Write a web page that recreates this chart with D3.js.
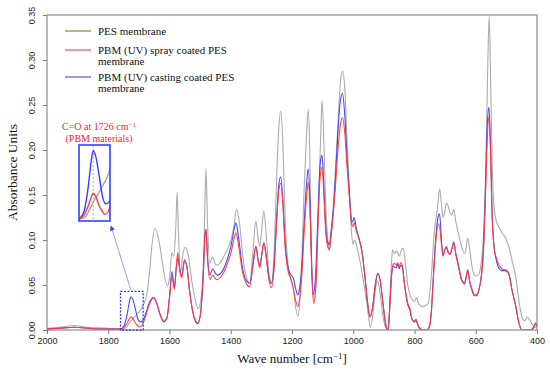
<!DOCTYPE html>
<html>
<head>
<meta charset="utf-8">
<script src="https://cdnjs.cloudflare.com/ajax/libs/d3/7.8.5/d3.min.js"></script>
<style>
  body { margin: 0; background: #fff; }
  svg { display: block; }
</style>
</head>
<body>
<svg id="chart" width="550" height="371"></svg>
<script>
/* Data: [wave number, absorbance] */

// PES membrane (grey)
var pesData = [
  [2000, 0.002], [1960, 0.003], [1910, 0.005], [1870, 0.003], [1800, 0.002], [1760, 0.001],
  [1745, 0.002], [1735, 0.006], [1726, 0.010], [1715, 0.014], [1705, 0.018], [1695, 0.022],
  [1685, 0.028], [1674, 0.040], [1665, 0.065], [1658, 0.092], [1648, 0.113], [1635, 0.100],
  [1620, 0.068], [1607, 0.049], [1600, 0.058], [1592, 0.086], [1586, 0.082], [1580, 0.110],
  [1575, 0.153], [1570, 0.100], [1564, 0.064], [1556, 0.085], [1548, 0.092], [1540, 0.085],
  [1525, 0.050], [1506, 0.024], [1495, 0.040], [1487, 0.100], [1481, 0.179], [1476, 0.120],
  [1468, 0.074], [1459, 0.081], [1450, 0.073], [1443, 0.072], [1432, 0.076], [1415, 0.087],
  [1400, 0.099], [1390, 0.115], [1381, 0.134], [1372, 0.120], [1360, 0.080], [1350, 0.060],
  [1338, 0.052], [1328, 0.085], [1318, 0.121], [1310, 0.100], [1305, 0.093], [1298, 0.115],
  [1292, 0.132], [1283, 0.100], [1275, 0.062], [1267, 0.052], [1258, 0.090], [1250, 0.170],
  [1243, 0.225], [1237, 0.243], [1230, 0.210], [1222, 0.120], [1212, 0.070], [1205, 0.058],
  [1195, 0.045], [1190, 0.030], [1181, 0.015], [1175, 0.030], [1168, 0.080], [1160, 0.160],
  [1152, 0.220], [1147, 0.245], [1142, 0.200], [1137, 0.090], [1129, 0.031], [1120, 0.060],
  [1112, 0.150], [1106, 0.220], [1102, 0.255], [1097, 0.220], [1090, 0.140], [1083, 0.100],
  [1078, 0.089], [1072, 0.110], [1066, 0.134], [1058, 0.180], [1050, 0.230], [1042, 0.275],
  [1035, 0.2875], [1028, 0.270], [1020, 0.210], [1012, 0.147], [1006, 0.110], [1001, 0.095],
  [996, 0.100], [990, 0.095], [980, 0.080], [972, 0.065], [960, 0.040], [950, 0.015],
  [945, 0.003], [935, 0.020], [928, 0.045], [920, 0.054], [912, 0.040], [903, 0.015],
  [893, 0.002], [886, 0.000], [880, 0.040], [875, 0.075], [872, 0.089], [865, 0.085],
  [858, 0.088], [850, 0.082], [843, 0.088], [837, 0.091], [830, 0.075], [822, 0.050],
  [815, 0.039], [805, 0.033], [800, 0.032], [794, 0.036], [788, 0.030], [780, 0.027],
  [772, 0.026], [765, 0.027], [755, 0.030], [745, 0.060], [735, 0.110], [725, 0.135],
  [718, 0.157], [712, 0.140], [707, 0.125], [702, 0.130], [696, 0.141], [690, 0.138],
  [684, 0.130], [678, 0.128], [672, 0.134], [665, 0.120], [655, 0.105], [648, 0.095],
  [637, 0.085], [632, 0.090], [626, 0.102], [620, 0.090], [612, 0.070], [605, 0.061],
  [598, 0.060], [590, 0.062], [582, 0.075], [574, 0.110], [566, 0.200], [561, 0.290],
  [556, 0.349], [551, 0.270], [546, 0.180], [540, 0.136], [532, 0.120], [523, 0.114],
  [512, 0.107], [502, 0.102], [490, 0.090], [480, 0.075], [469, 0.058], [458, 0.030],
  [448, 0.013], [440, 0.010], [432, 0.014], [425, 0.012], [415, 0.006], [405, 0.003],
  [400, 0.005]
];

// PBM (UV) spray coated PES membrane (red)
var sprayData = [
  [2000, 0.001], [1960, 0.002], [1910, 0.003], [1870, 0.002], [1800, 0.001], [1760, 0.001],
  [1748, 0.003], [1738, 0.008], [1730, 0.013], [1726, 0.0146], [1720, 0.013], [1712, 0.008],
  [1704, 0.005], [1698, 0.0035], [1690, 0.005], [1680, 0.013], [1665, 0.029], [1652, 0.036],
  [1642, 0.030], [1630, 0.017], [1618, 0.0098], [1608, 0.014], [1600, 0.035], [1592, 0.060],
  [1584, 0.045], [1578, 0.070], [1573, 0.086], [1566, 0.065], [1560, 0.058], [1551, 0.077],
  [1543, 0.070], [1535, 0.045], [1520, 0.015], [1508, 0.008], [1500, 0.015], [1490, 0.060],
  [1484, 0.105], [1481, 0.112], [1476, 0.080], [1468, 0.056], [1459, 0.061], [1450, 0.057],
  [1443, 0.056], [1430, 0.060], [1415, 0.070], [1400, 0.085], [1390, 0.100], [1383, 0.108],
  [1375, 0.095], [1362, 0.065], [1350, 0.052], [1338, 0.048], [1328, 0.070], [1318, 0.093],
  [1310, 0.075], [1305, 0.069], [1298, 0.085], [1292, 0.097], [1284, 0.080], [1275, 0.055],
  [1267, 0.047], [1258, 0.070], [1250, 0.120], [1243, 0.155], [1237, 0.163], [1230, 0.140],
  [1222, 0.090], [1212, 0.064], [1205, 0.058], [1195, 0.045], [1188, 0.033], [1181, 0.026],
  [1175, 0.035], [1168, 0.060], [1160, 0.110], [1152, 0.150], [1147, 0.164], [1141, 0.130],
  [1136, 0.070], [1129, 0.0295], [1122, 0.050], [1115, 0.120], [1108, 0.170], [1102, 0.181],
  [1096, 0.150], [1090, 0.110], [1083, 0.092], [1078, 0.089], [1072, 0.105], [1066, 0.125],
  [1058, 0.160], [1050, 0.200], [1042, 0.228], [1035, 0.236], [1028, 0.220], [1020, 0.180],
  [1012, 0.145], [1006, 0.120], [1002, 0.115], [997, 0.119], [990, 0.110], [980, 0.100],
  [972, 0.088], [962, 0.060], [953, 0.030], [945, 0.0146], [937, 0.025], [928, 0.050],
  [920, 0.063], [912, 0.055], [903, 0.030], [895, 0.008], [886, 0.000], [880, 0.030],
  [875, 0.060], [870, 0.073], [865, 0.074], [860, 0.072], [855, 0.075], [850, 0.070],
  [845, 0.075], [840, 0.072], [832, 0.050], [822, 0.030], [815, 0.024], [808, 0.012],
  [800, 0.010], [795, 0.012], [790, 0.007], [782, 0.002], [772, 0.000], [760, 0.000],
  [752, 0.003], [745, 0.020], [738, 0.060], [730, 0.100], [722, 0.118], [718, 0.115],
  [712, 0.095], [707, 0.082], [702, 0.088], [696, 0.093], [690, 0.087], [684, 0.085],
  [678, 0.090], [672, 0.097], [665, 0.085], [655, 0.070], [648, 0.058], [640, 0.053],
  [637, 0.052], [632, 0.058], [626, 0.067], [620, 0.055], [612, 0.045], [605, 0.039],
  [597, 0.039], [590, 0.044], [582, 0.058], [575, 0.085], [568, 0.150], [562, 0.215],
  [557, 0.237], [552, 0.200], [547, 0.130], [541, 0.095], [533, 0.080], [525, 0.073],
  [515, 0.068], [505, 0.067], [497, 0.066], [490, 0.060], [482, 0.045], [470, 0.028],
  [460, 0.010], [450, 0.000], [430, 0.000], [420, 0.000], [410, 0.003], [404, 0.007],
  [400, 0.003]
];

// PBM (UV) casting coated PES membrane (blue)
var castingData = [
  [2000, 0.001], [1960, 0.002], [1910, 0.003], [1870, 0.002], [1800, 0.001], [1760, 0.001],
  [1748, 0.005], [1738, 0.018], [1730, 0.033], [1726, 0.037], [1720, 0.034], [1712, 0.024],
  [1704, 0.013], [1696, 0.009], [1688, 0.010], [1678, 0.018], [1665, 0.031], [1652, 0.036],
  [1642, 0.030], [1630, 0.016], [1618, 0.009], [1608, 0.014], [1600, 0.037], [1592, 0.065],
  [1584, 0.047], [1578, 0.068], [1573, 0.080], [1566, 0.066], [1560, 0.060], [1551, 0.078],
  [1543, 0.070], [1535, 0.045], [1520, 0.014], [1508, 0.007], [1500, 0.015], [1490, 0.060],
  [1484, 0.105], [1481, 0.112], [1476, 0.082], [1468, 0.061], [1459, 0.068], [1450, 0.063],
  [1443, 0.061], [1430, 0.064], [1415, 0.075], [1400, 0.092], [1390, 0.110], [1383, 0.119],
  [1375, 0.104], [1362, 0.070], [1350, 0.055], [1338, 0.052], [1328, 0.072], [1318, 0.093],
  [1310, 0.077], [1305, 0.072], [1298, 0.086], [1292, 0.097], [1284, 0.082], [1275, 0.058],
  [1267, 0.052], [1258, 0.075], [1250, 0.125], [1243, 0.162], [1237, 0.170], [1230, 0.145],
  [1222, 0.095], [1212, 0.068], [1205, 0.062], [1195, 0.057], [1188, 0.046], [1181, 0.039],
  [1175, 0.047], [1168, 0.070], [1160, 0.120], [1152, 0.165], [1147, 0.179], [1141, 0.140],
  [1136, 0.075], [1131, 0.039], [1124, 0.055], [1115, 0.130], [1108, 0.185], [1102, 0.194],
  [1096, 0.160], [1090, 0.115], [1083, 0.097], [1078, 0.095], [1072, 0.110], [1066, 0.130],
  [1058, 0.170], [1050, 0.220], [1042, 0.255], [1035, 0.263], [1028, 0.240], [1020, 0.190],
  [1012, 0.150], [1006, 0.123], [1002, 0.120], [997, 0.125], [990, 0.113], [980, 0.100],
  [972, 0.088], [962, 0.060], [953, 0.030], [945, 0.0146], [937, 0.025], [928, 0.050],
  [920, 0.063], [912, 0.055], [903, 0.030], [895, 0.008], [886, 0.000], [880, 0.030],
  [875, 0.060], [870, 0.071], [865, 0.070], [860, 0.069], [855, 0.073], [850, 0.068],
  [845, 0.072], [840, 0.070], [832, 0.048], [822, 0.028], [815, 0.022], [808, 0.012],
  [800, 0.009], [795, 0.011], [790, 0.006], [782, 0.001], [772, 0.000], [760, 0.000],
  [752, 0.003], [745, 0.020], [738, 0.062], [730, 0.105], [722, 0.127], [718, 0.129],
  [712, 0.100], [707, 0.083], [702, 0.088], [696, 0.092], [690, 0.086], [684, 0.084],
  [678, 0.090], [672, 0.098], [665, 0.084], [655, 0.068], [648, 0.057], [640, 0.052],
  [637, 0.051], [632, 0.057], [626, 0.066], [620, 0.054], [612, 0.044], [605, 0.038],
  [597, 0.038], [590, 0.044], [582, 0.060], [575, 0.090], [568, 0.160], [562, 0.230],
  [557, 0.2475], [552, 0.210], [547, 0.135], [541, 0.095], [533, 0.078], [525, 0.069],
  [515, 0.066], [505, 0.066], [497, 0.065], [490, 0.060], [482, 0.045], [470, 0.027],
  [460, 0.009], [450, 0.000], [430, 0.000], [420, 0.000], [410, 0.004], [404, 0.008],
  [400, 0.004]
];

var xTicks = [2000, 1800, 1600, 1400, 1200, 1000, 800, 600, 400];
var yTicks = [0, 0.05, 0.10, 0.15, 0.20, 0.25, 0.30, 0.35];
var legendLabels = [
  ["PES membrane"],
  ["PBM (UV) spray coated PES", "membrane"],
  ["PBM (UV) casting coated PES", "membrane"]
];
var legendColors = ["#9a9a40", "#ff6a6a", "#6f6fdc"];
var carbonylWave = 1726;
var zoomWindow = [1760, 1686];   // wave numbers shown in the inset
var zoomTop = 0.043;             // top of the dashed box

/* Layout */
var box = { left: 47, right: 537, top: 15, bottom: 330 };
var serif = "'Liberation Serif', 'Times New Roman', serif";
var sans = "'Liberation Sans', Arial, sans-serif";

var svg = d3.select("#chart");

var x = d3.scaleLinear().domain([2000, 400]).range([box.left, box.right]);
var y = d3.scaleLinear().domain([0, 0.35]).range([box.bottom, box.top]);

// drawing order: grey underneath, red on top
var series = [
  { data: pesData, color: "#a6a6a6" },
  { data: castingData, color: "#3c3cff" },
  { data: sprayData, color: "#ff3b3b" }
];

svg.append("clipPath").attr("id", "plotClip")
  .append("rect")
  .attr("x", box.left).attr("y", box.top)
  .attr("width", box.right - box.left).attr("height", box.bottom - box.top);

// axes
var xAxis = svg.append("g")
  .attr("transform", "translate(0," + box.bottom + ")")
  .call(d3.axisBottom(x).tickValues(xTicks).tickFormat(d3.format("d")).tickSize(4).tickPadding(4));

var yAxis = svg.append("g")
  .attr("transform", "translate(" + box.left + ",0)")
  .call(d3.axisLeft(y).tickValues(yTicks).tickFormat(d3.format(".2f")).tickSize(4));

[xAxis, yAxis].forEach(function(g){
  g.select(".domain").remove();
  g.selectAll(".tick line").attr("stroke", "#777");
  g.selectAll(".tick text").attr("fill", "#222").style("font-family", sans).style("font-size", "9px");
});

yAxis.selectAll(".tick text")
  .attr("x", null).attr("dy", null)
  .attr("text-anchor", "middle")
  .attr("transform", "translate(-12,0) rotate(-90)");

// spectra
var line = d3.line()
  .x(function(d){ return x(d[0]); })
  .y(function(d){ return y(d[1]); })
  .curve(d3.curveMonotoneX);

svg.append("g").attr("clip-path", "url(#plotClip)")
  .selectAll("path")
  .data(series)
  .enter().append("path")
  .attr("d", function(s){ return line(s.data); })
  .attr("fill", "none")
  .attr("stroke", function(s){ return s.color; })
  .attr("stroke-width", 1.1)
  .attr("stroke-opacity", 0.95);

// frame
svg.append("rect")
  .attr("x", box.left).attr("y", box.top)
  .attr("width", box.right - box.left).attr("height", box.bottom - box.top)
  .attr("fill", "none").attr("stroke", "#8c8c8c").attr("stroke-width", 1.2);

// axis titles
var xTitle = svg.append("text")
  .attr("x", (box.left + box.right) / 2).attr("y", 363)
  .attr("text-anchor", "middle")
  .style("font-family", serif).style("font-size", "13px").attr("fill", "#111")
  .text("Wave number [cm");
xTitle.append("tspan").attr("dy", -4).style("font-size", "9px").text("\u22121");
xTitle.append("tspan").attr("dy", 4).text("]");

svg.append("text")
  .attr("transform", "translate(17," + ((box.top + box.bottom) / 2) + ") rotate(-90)")
  .attr("text-anchor", "middle")
  .style("font-family", serif).style("font-size", "13.5px").attr("fill", "#111")
  .text("Absorbance Units");

// legend
var legendY = [31, 50, 77];
var legend = svg.append("g");
legendLabels.forEach(function(lines, i){
  legend.append("line")
    .attr("x1", 65).attr("x2", 91)
    .attr("y1", legendY[i]).attr("y2", legendY[i])
    .attr("stroke", legendColors[i]).attr("stroke-width", 1.4);
  lines.forEach(function(t, j){
    legend.append("text")
      .attr("x", 98).attr("y", legendY[i] + 3.5 + j * 11)
      .style("font-family", serif).style("font-size", "11px").attr("fill", "#111")
      .text(t);
  });
});

// dashed zoom box on the carbonyl band
svg.append("rect")
  .attr("x", x(zoomWindow[0])).attr("y", y(zoomTop))
  .attr("width", x(zoomWindow[1]) - x(zoomWindow[0]))
  .attr("height", y(0) - y(zoomTop))
  .attr("fill", "none").attr("stroke", "#2f3cff")
  .attr("stroke-width", 1.3).attr("stroke-dasharray", "2,1.5");

// inset
var inset = { left: 79, right: 110, top: 145, bottom: 221 };
var ix = d3.scaleLinear().domain(zoomWindow).range([inset.left, inset.right]);
var iy = d3.scaleLinear().domain([0, 0.04]).range([inset.bottom, inset.top]);

svg.append("clipPath").attr("id", "insetClip")
  .append("rect")
  .attr("x", inset.left).attr("y", inset.top)
  .attr("width", inset.right - inset.left).attr("height", inset.bottom - inset.top);

svg.append("rect")
  .attr("x", inset.left).attr("y", inset.top)
  .attr("width", inset.right - inset.left).attr("height", inset.bottom - inset.top)
  .attr("fill", "#fff");

svg.append("line")
  .attr("x1", ix(carbonylWave)).attr("x2", ix(carbonylWave))
  .attr("y1", inset.top).attr("y2", inset.bottom)
  .attr("stroke", "#999").attr("stroke-width", 0.8).attr("stroke-dasharray", "2,2");

var insetLine = d3.line()
  .x(function(d){ return ix(d[0]); })
  .y(function(d){ return iy(d[1]); })
  .curve(d3.curveMonotoneX);

svg.append("g").attr("clip-path", "url(#insetClip)")
  .selectAll("path")
  .data(series)
  .enter().append("path")
  .attr("d", function(s){
    return insetLine(s.data.filter(function(d){ return d[0] <= 1790 && d[0] >= 1660; }));
  })
  .attr("fill", "none")
  .attr("stroke", function(s){ return s.color; })
  .attr("stroke-width", 1.4);

svg.append("rect")
  .attr("x", inset.left).attr("y", inset.top)
  .attr("width", inset.right - inset.left).attr("height", inset.bottom - inset.top)
  .attr("fill", "none").attr("stroke", "#3340ff").attr("stroke-width", 1.6);

// arrow from dashed box to inset
svg.append("defs").append("marker")
  .attr("id", "head").attr("viewBox", "0 0 10 10")
  .attr("refX", 9).attr("refY", 5)
  .attr("markerWidth", 5).attr("markerHeight", 5)
  .attr("orient", "auto")
  .append("path").attr("d", "M0,0L10,5L0,10z").attr("fill", "#2f3cff");

svg.append("line")
  .attr("x1", x(carbonylWave)).attr("y1", y(zoomTop) - 1)
  .attr("x2", inset.right + 1).attr("y2", inset.bottom + 5)
  .attr("stroke", "#8f9cff").attr("stroke-width", 1)
  .attr("marker-end", "url(#head)");

// annotation
var note = svg.append("text")
  .attr("x", 99).attr("y", 130)
  .attr("text-anchor", "middle")
  .style("font-family", serif).style("font-size", "10px").attr("fill", "#ff2020")
  .text("C=O at " + carbonylWave + " cm");
note.append("tspan").attr("dy", -3.5).style("font-size", "7px").text("\u22121");

svg.append("text")
  .attr("x", 99).attr("y", 142)
  .attr("text-anchor", "middle")
  .style("font-family", serif).style("font-size", "10px").attr("fill", "#ff2020")
  .text("(PBM materials)");
</script>
</body>
</html>
